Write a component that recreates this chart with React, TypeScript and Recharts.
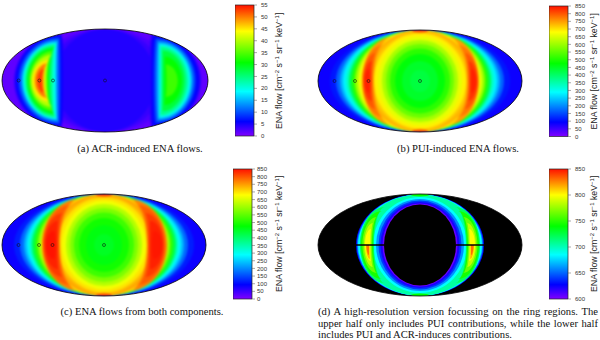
import React from "react";
import { ScatterChart, Scatter, XAxis, YAxis, ReferenceArea, ReferenceLine } from "recharts";

// Map units: lon -102..102, lat -51..51. Values.
type Contour = [number, number, number]; // level, extent on equator, extent on central meridian
type Lobe = [number, number, number, number, number, number?]; // level, outer, inner, tip, lat extent, half (-1 south)
type Cap = [number, number, number, number, number]; // level, lon, lat, half-width, half-height

const mapAContours: Contour[] = [
  [1.5, 102, 51], [2.5, 70, 51.5], [3.5, 58, 51.5], [4.5, 50, 51.5],
];
const mapALobes: Lobe[] = [
  [4.5, -90, -40, -44, 46], [6, -88, -42, -44, 45], [9, -86, -44, -45, 43], [12, -84, -46, -46, 41], [16, -82, -48, -47, 39],
  [20, -81, -49, -48, 37.5], [25, -79, -52, -49, 36], [30, -77, -55, -50, 33], [35, -75, -57, -51, 29.5],
  [40, -73.5, -58, -52, 26], [45, -72, -60, -55, 21], [50, -69.5, -61, -57, 17], [53, -67, -62.5, -60, 12],
  [4.5, 95, 44, 46, 46], [6, 93, 46, 48, 44], [9, 90, 48, 50, 42], [12, 88, 50, 52, 40], [16, 86, 52, 53, 38],
  [20, 84.5, 54, 54, 36], [24, 82, 55.5, 55, 34], [28, 79, 57, 57, 30], [31, 76, 59, 59, 24], [34, 72, 61, 60, 16],
];
const mapBContours: Contour[] = [
  [85, 102, 51], [110, 90, 51], [170, 84, 51], [230, 80, 51], [280, 77, 51], [330, 74, 51], [420, 71, 51], [510, 68, 51],
  [600, 65, 51], [665, 62, 51], [690, 59, 51], [715, 56, 51], [735, 53, 51], [720, 49, 49.5], [690, 46, 47.5], [660, 42, 44.5],
  [610, 38, 41], [560, 34, 37], [510, 30, 32.5], [470, 25, 27], [445, 18, 20], [430, 10, 11],
];
const mapBLobes: Lobe[] = [
  [750, -58, -46, -28, 44], [775, -57.5, -47, -37, 36], [800, -57, -48, -44, 28], [825, -56, -49, -48, 20], [838, -55.5, -50, -51, 12],
  [750, 59, 47, 28, 44], [775, 58.5, 48, 37, 36], [800, 58, 49, 44, 28], [825, 57, 50, 48, 20], [838, 56.5, 51, 51, 12],
];
const mapBCaps: Cap[] = [[810, 0, 50, 8, 1.5], [810, 0, -50, 8, 1.5]];
const mapCContours: Contour[] = [
  [85, 102, 51], [115, 90, 51], [175, 84, 51], [235, 80, 51], [285, 77, 51], [335, 74.5, 51], [425, 72, 51], [515, 69, 51],
  [600, 66, 51], [665, 63, 51], [700, 60, 51], [725, 57, 51], [745, 53, 51], [730, 49, 49.5], [700, 46, 47.5], [670, 42, 44.5],
  [620, 38, 41], [575, 34, 37], [525, 30, 32.5], [490, 25, 27], [465, 18, 20], [450, 10, 11],
];
const mapCLobes: Lobe[] = [
  [770, -62, -44, -25, 46], [795, -61, -45, -33, 40], [820, -60, -46, -41, 32], [838, -59, -47, -46, 24], [848, -58, -48.5, -50, 14],
  [770, 63, 43, 25, 46], [795, 61.5, 44, 33, 40], [820, 60, 45, 41, 32], [838, 59, 46, 46, 24], [845, 58, 48, 50, 14],
];
const mapCCaps: Cap[] = [[815, 0, 50, 8, 1.5], [815, 0, -50, 8, 1.5]];
const mapDContours: Contour[] = [
  [500, 102, 51], [630, 64, 51], [660, 63, 50.5], [685, 62, 50.5], [705, 60, 50.5], [685, 47, 48], [660, 44, 46], [640, 41.5, 44.5],
  [622, 39.5, 43], [605, 37.5, 41.5], [500, 36, 40.5],
];
const mapDLobes: Lobe[] = [
  [720, -60, -46, -35, 38], [745, -59, -47, -38, 34], [765, -57.5, -48, -43, 28], [785, -56, -49, -47, 22], [800, -55, -50, -49, 16], [815, -54, -50.5, -50, 14, -1], [830, -53.5, -51, -51, 10, -1],
  [720, 60, 46, 35, 38], [745, 59, 47, 38, 34], [765, 57.5, 48, 43, 28], [785, 56, 49, 47, 22], [800, 55, 50, 49, 16], [815, 54, 50.5, 50, 14, -1], [830, 53.5, 51, 51, 10, -1],
];
const mapDCaps: Cap[] = [[740, 0, 50, 9, 1.5], [740, 0, -50, 9, 1.5]];
const equatorGaps = [[-64, -36], [36, 64]];
const markerLons = [-85.5, -65, -51.5, 0];

const acrTicks = [0, 5, 10, 15, 20, 25, 30, 35, 40, 45, 50, 55];
const fullTicks = [0, 50, 100, 150, 200, 250, 300, 350, 400, 450, 500, 550, 600, 650, 700, 750, 800, 850];
const ringTicks = [600, 650, 700, 750, 800, 850];

const paletteStops: [number, number[]][] = [
  [0, [128, 0, 255]], [0.11, [0, 0, 255]], [0.34, [0, 255, 255]], [0.56, [0, 255, 0]], [0.8, [255, 255, 0]], [1, [255, 16, 0]],
];

function ramp(t: number): string {
  if (t < 0) return "#000";
  for (let i = 1; i < paletteStops.length; i++) {
    const [t1, c1] = paletteStops[i];
    if (t <= t1) {
      const [t0, c0] = paletteStops[i - 1];
      const f = (t - t0) / (t1 - t0);
      return `rgb(${c0.map((c, j) => Math.round(c + (c1[j] - c) * f)).join(",")})`;
    }
  }
  return "rgb(255,16,0)";
}

const PAD = 6;

function SkyMap(p: {
  left: number; top: number; w: number; h: number; min: number; max: number; blur: number;
  contours: Contour[]; lobes?: Lobe[]; caps?: Cap[]; markers?: boolean; gaps?: boolean;
}) {
  const { w, h, min, max } = p;
  const k = w / 204;
  const CX = w / 2 + PAD, CY = h / 2 + PAD;
  const col = (v: number) => ramp((v - min) / (max - min));
  const ell = (s: any) =>
    s.payload.base ? (
      <rect x={0} y={0} width={w + 2 * PAD} height={h + 2 * PAD} fill={col(s.payload.level)} />
    ) : (
      <ellipse cx={CX} cy={CY} rx={Math.abs(s.cx - CX)} ry={Math.abs(s.cy - CY)} fill={col(s.payload.level)} />
    );
  const lobe = (s: any) => {
    const { outer, inner, tip, lat, half } = s.payload;
    const X = (v: number) => s.cx + (v - outer) * k;
    const cy = s.cy;
    const H = lat * k;
    const xo = X(outer), xi = X(inner), xt = X(tip);
    const cxo = xt + 0.55 * (xo - xt), cxi = xt + 0.55 * (xi - xt);
    const north = `M${xt},${cy - H} C${cxo},${cy - H} ${xo},${cy - 0.55 * H} ${xo},${cy}`;
    const south = `C${xo},${cy + 0.55 * H} ${cxo},${cy + H} ${xt},${cy + H} C${cxi},${cy + H} ${xi},${cy + 0.55 * H} ${xi},${cy}`;
    const closeN = `C${xi},${cy - 0.55 * H} ${cxi},${cy - H} ${xt},${cy - H}Z`;
    const d = half === -1 ? `M${xo},${cy} ${south} Z` : `${north} ${south} ${closeN}`;
    return <path d={d} fill={col(s.payload.level)} />;
  };
  const cap = (s: any) => <ellipse cx={s.cx} cy={s.cy} rx={s.payload.rx * k} ry={s.payload.ry * k} fill={col(s.payload.level)} />;
  const mark = (s: any) => <circle cx={s.cx} cy={s.cy} r={1.5} fill="none" stroke="#111" strokeOpacity={0.8} strokeWidth={0.7} />;
  const outline = (s: any) => (
    <ellipse cx={CX} cy={CY} rx={Math.abs(s.cx - CX)} ry={Math.abs(s.cy - CY)} fill="none" stroke="#000" strokeWidth={0.8} />
  );
  const contourData = p.contours.map(([level, x, y], i) => ({ level, x, y, base: i === 0 }));
  const lobeData = (p.lobes || []).map(([level, outer, inner, tip, lat, half]) => ({ level, outer, inner, tip, lat, half, x: outer, y: 0 }));
  const capData = (p.caps || []).map(([level, x, y, rx, ry]) => ({ level, x, y, rx, ry }));
  const margin = { top: PAD, right: PAD, bottom: PAD, left: PAD };
  const W = w + 2 * PAD, H = h + 2 * PAD;
  const box: React.CSSProperties = { position: "absolute", left: p.left - PAD, top: p.top - PAD, width: W, height: H };
  return (
    <>
      <div style={{ ...box, filter: `blur(${p.blur}px)`, clipPath: `ellipse(${w / 2}px ${h / 2}px at ${CX}px ${CY}px)` }}>
        <ScatterChart width={W} height={H} margin={margin}>
          <XAxis type="number" dataKey="x" domain={[-102, 102]} hide />
          <YAxis type="number" dataKey="y" domain={[-51, 51]} hide />
          <Scatter data={contourData} shape={ell} isAnimationActive={false} />
          {lobeData.length > 0 && <Scatter data={lobeData} shape={lobe} isAnimationActive={false} />}
          {capData.length > 0 && <Scatter data={capData} shape={cap} isAnimationActive={false} />}
        </ScatterChart>
      </div>
      <div style={box}>
        <ScatterChart width={W} height={H} margin={margin}>
          <XAxis type="number" dataKey="x" domain={[-102, 102]} hide />
          <YAxis type="number" dataKey="y" domain={[-51, 51]} hide />
          {p.gaps && equatorGaps.map(([a, b]) => (
            <ReferenceLine key={a} segment={[{ x: a, y: 0 }, { x: b, y: 0 }]} stroke="#000" strokeWidth={1.5} />
          ))}
          {p.markers && <Scatter data={markerLons.map((x) => ({ x, y: 0 }))} shape={mark} isAnimationActive={false} />}
          <Scatter data={[{ x: 102, y: 51 }]} shape={outline} isAnimationActive={false} />
        </ScatterChart>
      </div>
    </>
  );
}

function ColorBar(p: { id: string; left: number; top: number; h: number; ticks: number[]; titleX: number; gap: number }) {
  const min = p.ticks[0], max = p.ticks[p.ticks.length - 1];
  const W = 62;
  const tickData = p.ticks.map((y) => ({ x: 0.5, y }));
  return (
    <div style={{ position: "absolute", left: p.left, top: p.top - 4, width: W, height: p.h + 8 }}>
      <ScatterChart width={W} height={p.h + 8} margin={{ top: 4, right: 0, bottom: 4, left: 0 }}>
        <defs>
          <linearGradient id={p.id} x1="0" y1="1" x2="0" y2="0">
            {paletteStops.map(([t]) => <stop key={t} offset={t} stopColor={ramp(t)} />)}
          </linearGradient>
        </defs>
        <XAxis type="number" dataKey="x" domain={[0, 1]} hide />
        <YAxis
          type="number" dataKey="y" orientation="right" width={W - 19} domain={[min, max]} ticks={p.ticks} interval={0}
          axisLine={false} tickSize={3} tickMargin={p.gap} tickLine={{ stroke: "#555", strokeWidth: 0.5 }}
          tick={{ fontSize: 6, fontFamily: "Liberation Sans", fill: "#333" }}
        />
        <Scatter data={tickData} shape={() => <g />} isAnimationActive={false} />
        <ReferenceArea x1={0} x2={1} y1={min} y2={max} fill={`url(#${p.id})`} fillOpacity={1} stroke="#222" strokeWidth={0.7} />
        <text transform={`translate(${p.titleX},${p.h - 3}) rotate(-90)`} fontSize={8.8} fontFamily="Liberation Sans" fill="#222">
          ENA flow [cm<tspan dy={-3.2} fontSize={6}>−2</tspan><tspan dy={3.2}> s</tspan><tspan dy={-3.2} fontSize={6}>−1</tspan>
          <tspan dy={3.2}> sr</tspan><tspan dy={-3.2} fontSize={6}>−1</tspan><tspan dy={3.2}> keV</tspan>
          <tspan dy={-3.2} fontSize={6}>−1</tspan><tspan dy={3.2}>]</tspan>
        </text>
      </ScatterChart>
    </div>
  );
}

const captionStyle: React.CSSProperties = {
  position: "absolute", fontFamily: "Liberation Serif", fontSize: 10.6, lineHeight: "12px", color: "#111", whiteSpace: "nowrap",
};

function Caption(p: { left: number; top: number; width: number; text: string; justify?: boolean; align?: "center" | "left" }) {
  return (
    <div style={{
      ...captionStyle, left: p.left, top: p.top, width: p.width, textAlign: p.align || "center",
      ...(p.justify ? { whiteSpace: "normal", textAlignLast: "justify" as const } : {}),
    }}>{p.text}</div>
  );
}

export default function App() {
  return (
    <div style={{ position: "fixed", left: 0, top: 0, width: 600, height: 340, background: "#fff", overflow: "hidden" }}>
      <SkyMap left={2} top={29} w={206} h={103} min={0} max={55} blur={1} contours={mapAContours} lobes={mapALobes} markers />
      <SkyMap left={318} top={30} w={204} h={102} min={0} max={850} blur={1.3} contours={mapBContours} lobes={mapBLobes} caps={mapBCaps} markers />
      <SkyMap left={2} top={194} w={204} h={102} min={0} max={850} blur={1.3} contours={mapCContours} lobes={mapCLobes} caps={mapCCaps} markers />
      <SkyMap left={318} top={194} w={204} h={102} min={600} max={850} blur={0.6} contours={mapDContours} lobes={mapDLobes} caps={mapDCaps} gaps />
      <ColorBar id="ga" left={235} top={5} h={131} ticks={acrTicks} titleX={47} gap={4} />
      <ColorBar id="gb" left={549} top={5.5} h={130.5} ticks={fullTicks} titleX={48} gap={4} />
      <ColorBar id="gc" left={233} top={169} h={130} ticks={fullTicks} titleX={49} gap={2} />
      <ColorBar id="gd" left={549} top={169} h={130} ticks={ringTicks} titleX={48} gap={4} />
      <Caption left={50} top={143} width={180} text="(a) ACR-induced ENA flows." />
      <Caption left={368} top={143} width={180} text="(b) PUI-induced ENA flows." />
      <Caption left={40} top={306} width={204} text="(c) ENA flows from both components." />
      <Caption left={318} top={306} width={280} justify text="(d) A high-resolution version focussing on the ring regions. The" />
      <Caption left={318} top={318} width={280} justify text="upper half only includes PUI contributions, while the lower half" />
      <Caption left={318} top={329} width={280} align="left" text="includes PUI and ACR-induces contributions." />
    </div>
  );
}
